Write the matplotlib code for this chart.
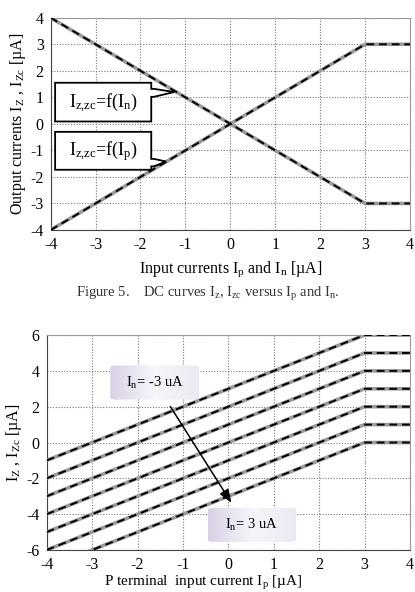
import numpy as np
import matplotlib
matplotlib.use("Agg")
import matplotlib.pyplot as plt
from matplotlib.patches import Polygon, FancyBboxPatch

plt.rcParams['font.family'] = ['Liberation Serif', 'DejaVu Serif']
plt.rcParams['mathtext.fontset'] = 'custom'
plt.rcParams['mathtext.rm'] = 'Liberation Serif'
plt.rcParams['mathtext.it'] = 'Liberation Serif:italic'
plt.rcParams['mathtext.default'] = 'regular'

# figure 5: DC curves, break points
x_in = [-4, 3, 4]
iz_n = [4, -3, -3]      # Iz,zc = f(In)
iz_p = [-4, 3, 3]       # Iz,zc = f(Ip)

# figure 6: family of curves, one per In value
x_p = [-4, 3, 4]
offsets = [3, 2, 1, 0, -1, -2, -3]
top_ticks_x = [-4, -3, -2, -1, 0, 1, 2, 3, 4]
top_ticks_y = [-4, -3, -2, -1, 0, 1, 2, 3, 4]
bot_ticks_y = [-6, -4, -2, 0, 2, 4, 6]

fig = plt.figure(figsize=(4.15, 5.92), dpi=100)

def curve(ax, x, y):
    ax.plot(x, y, color='#9a9a9a', lw=2.6, solid_capstyle='butt', zorder=3)
    ax.plot(x, y, color='black', lw=1.4, ls=(0, (4, 2.5)), zorder=4)

def style(ax, xt, yt):
    ax.set_xticks(xt)
    ax.set_yticks(yt)
    ax.set_xticklabels([str(v) for v in xt])
    ax.set_yticklabels([str(v) for v in yt])
    ax.tick_params(length=0, labelsize=11.5, pad=5)
    ax.grid(True, color='#777777', ls=(0, (1, 1.5)), lw=0.8)
    for s in ['top', 'right']:
        ax.spines[s].set_color('#999999')
    for s in ['left', 'bottom']:
        ax.spines[s].set_color('#444444')

# ---- top chart
ax1 = fig.add_axes([0.122, 0.6115, 0.866, 0.3585])
ax1.set_xlim(-4, 4)
ax1.set_ylim(-4, 4)
style(ax1, top_ticks_x, top_ticks_y)
curve(ax1, x_in, iz_n)
curve(ax1, x_in, iz_p)
ax1.set_ylabel('Output currents I$_Z$ , I$_{Zc}$ [µA]', fontsize=11.5, labelpad=2)
ax1.set_xlabel('Input currents I$_p$ and I$_n$ [µA]', fontsize=11.5, labelpad=5)

# callout boxes
def callout(ax, x0, x1, y0, y1, t1, t2, tip, txt):
    pts = [(x0, y1), (x1, y1), (x1, t1), (x1 + 0.06, t1), tip,
           (x1 + 0.06, t2), (x1, t2), (x1, y0), (x0, y0)]
    ax.add_patch(Polygon(pts, closed=True, fc='white', ec='black', lw=1.3, zorder=6))
    ax.text((x0 + x1) / 2, (y0 + y1) / 2, txt, ha='center', va='center',
            fontsize=13, zorder=7)

callout(ax1, -3.9, -1.76, 0.09, 1.55, 1.32, 1.02, (-1.25, 1.2),
        'I$_{z{,}zc}$=f(I$_n$)')
callout(ax1, -3.9, -1.76, -1.73, -0.3, -1.32, -1.6, (-1.43, -1.42),
        'I$_{z{,}zc}$=f(I$_p$)')

fig.text(0.5, 0.503, 'Figure 5.    DC curves I$_z$, I$_{zc}$ versus I$_p$ and I$_n$.',
         ha='center', va='center', fontsize=10.5, color='#333333')

# ---- bottom chart
ax2 = fig.add_axes([0.1125, 0.071, 0.8755, 0.363])
ax2.set_xlim(-4, 4)
ax2.set_ylim(-6, 6)
style(ax2, top_ticks_x, bot_ticks_y)
for c in offsets:
    y = [min(v, 3) + c for v in x_p]
    curve(ax2, x_p, y)
ax2.set_ylabel('I$_Z$ , I$_{Zc}$ [µA]', fontsize=11.5, labelpad=2)
fig.text(0.49, 0.0, 'P terminal  input current I$_p$ [µA]', ha='center',
         va='bottom', fontsize=11)

grad = np.linspace(0, 1, 64).reshape(1, -1)
cmap = matplotlib.colors.LinearSegmentedColormap.from_list(
    'lav', ['#d9d2e6', '#f7f5fa', '#ece8f3'])

def label_box(ax, x0, y0, w, h, txt):
    box = FancyBboxPatch((x0, y0), w, h, boxstyle='round,pad=0,rounding_size=0.12',
                         fc='none', ec='none', zorder=6)
    ax.add_patch(box)
    im = ax.imshow(grad, extent=[x0, x0 + w, y0, y0 + h], cmap=cmap,
                   aspect='auto', zorder=6)
    im.set_clip_path(box)
    ax.text(x0 + w / 2, y0 + h / 2, txt, ha='center', va='center',
            fontsize=10.5, zorder=7)

label_box(ax2, -2.6, 2.4, 1.96, 1.9, 'I$_n$= -3 uA')
label_box(ax2, -0.45, -5.55, 1.94, 1.9, 'I$_n$= 3 uA')
ax2.set_xlim(-4, 4)
ax2.set_ylim(-6, 6)
ax2.annotate('', xy=(0.1, -3.5), xytext=(-1.31, 2.14),
             arrowprops=dict(arrowstyle='-|>,head_length=0.8,head_width=0.3',
                             color='black', lw=1.1), zorder=8)

fig.savefig('out.png', dpi=100)
